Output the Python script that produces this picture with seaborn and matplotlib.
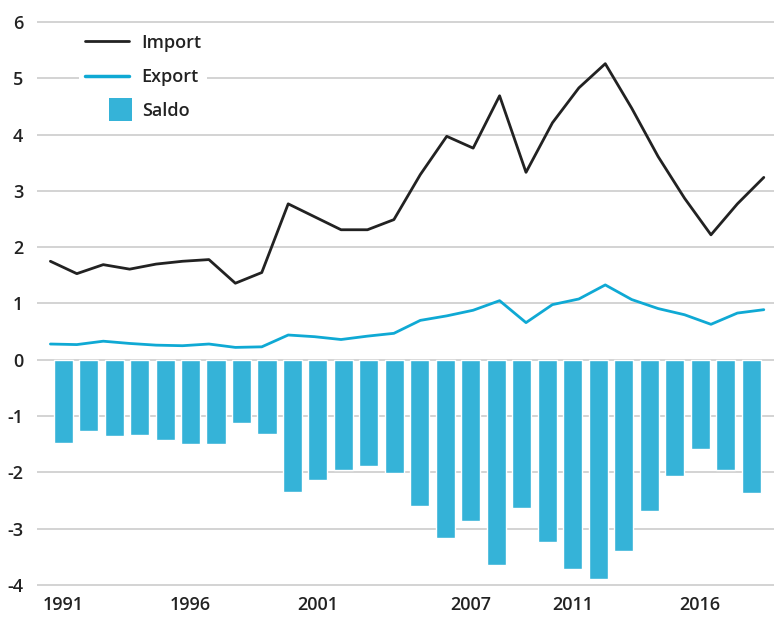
import matplotlib
matplotlib.use("Agg")
import matplotlib.pyplot as plt
from matplotlib.lines import Line2D
from matplotlib.patches import Patch, Rectangle
from matplotlib.legend_handler import HandlerPatch
import seaborn as sns
import pandas as pd

years = list(range(1991, 2019))
imports = [1.75, 1.53, 1.69, 1.61, 1.70, 1.75, 1.78, 1.36, 1.55, 2.77,
           2.54, 2.31, 2.31, 2.49, 3.29, 3.97, 3.76, 4.69, 3.33, 4.21,
           4.83, 5.26, 4.47, 3.61, 2.87, 2.22, 2.77, 3.24]
exports = [0.28, 0.27, 0.33, 0.29, 0.26, 0.25, 0.28, 0.22, 0.23, 0.44,
           0.41, 0.36, 0.42, 0.47, 0.70, 0.78, 0.88, 1.05, 0.66, 0.98,
           1.08, 1.33, 1.07, 0.91, 0.80, 0.63, 0.83, 0.89]
saldo = [-1.47, -1.26, -1.36, -1.33, -1.43, -1.50, -1.49, -1.13, -1.31, -2.34,
         -2.13, -1.95, -1.89, -2.02, -2.59, -3.17, -2.87, -3.64, -2.64, -3.23,
         -3.72, -3.90, -3.40, -2.68, -2.06, -1.58, -1.95, -2.36]
tick_years = [1991, 1996, 2001, 2007, 2011, 2016]
y_ticks = [-4, -3, -2, -1, 0, 1, 2, 3, 4, 5, 6]

df = pd.DataFrame({"year": years, "Import": imports, "Export": exports, "Saldo": saldo})

sns.set_theme(style="white")
plt.rcParams["font.family"] = ["Open Sans", "DejaVu Sans"]

C_IMPORT = "#222222"
C_EXPORT = "#0fa9d4"
C_SALDO = "#35b3d8"
TXT = "#222222"

fig = plt.figure(figsize=(7.74, 6.2), dpi=100)
ax = fig.add_axes([0.048, 0.052, 0.952, 0.917])

# balance bars on a categorical axis
sns.barplot(data=df, x="year", y="Saldo", color=C_SALDO, saturation=1,
            width=0.75, ax=ax, zorder=2)
ax.set_xlim(-1.02, 27.9)
ax.set_ylim(-4.05, 6.05)
ax.set_yticks(y_ticks)
ax.set_yticklabels([str(v) for v in y_ticks])
ax.set_xticks([years.index(y) for y in tick_years])
ax.set_xticklabels([str(y) for y in tick_years])
ax.grid(axis="y", color="#cccccc", linewidth=1.2, zorder=0)
ax.set_axisbelow(True)
for s in ax.spines.values():
    s.set_visible(False)
ax.tick_params(axis="both", length=0, labelsize=13, labelcolor=TXT, pad=6)
ax.tick_params(axis="y", pad=10)
for lab in ax.get_xticklabels() + ax.get_yticklabels():
    lab.set_fontweight("semibold")
ax.set_xlabel("")
ax.set_ylabel("")

# import / export lines span the full band range on a twin x axis
ax2 = ax.twiny()
lo, hi = years[0], years[-1]
span = (hi - lo)
# bar-axis limits (-1.02, 27.9) expressed in years, with -0.5 -> lo and 27.5 -> hi
k = span / 28.0
ax2.set_xlim(lo + (-1.02 + 0.5) * k, lo + (27.9 + 0.5) * k)
sns.lineplot(data=df, x="year", y="Import", color=C_IMPORT, linewidth=2.0, ax=ax2, zorder=3)
sns.lineplot(data=df, x="year", y="Export", color=C_EXPORT, linewidth=2.0, ax=ax2, zorder=3)
ax2.set_ylim(ax.get_ylim())
ax2.set_xticks([])
ax2.set_xlabel("")
ax2.set_ylabel("")
for s in ax2.spines.values():
    s.set_visible(False)


class SquareHandler(HandlerPatch):
    def create_artists(self, legend, orig_handle, xdescent, ydescent,
                       width, height, fontsize, trans):
        s = 1.28 * fontsize
        r = Rectangle((width - xdescent - s + 2.0, -ydescent + (height - s) / 2), s, s,
                      facecolor=orig_handle.get_facecolor(), edgecolor="none",
                      transform=trans)
        return [r]


handles = [Line2D([], [], color=C_IMPORT, linewidth=2.0),
           Line2D([], [], color=C_EXPORT, linewidth=2.5),
           Patch(facecolor=C_SALDO)]
leg = ax2.legend(handles, ["Import", "Export", "Saldo"],
                 loc="upper left", bbox_to_anchor=(0.045, 1.0),
                 frameon=True, framealpha=1, facecolor="white", edgecolor="none",
                 fancybox=False, fontsize=13, handlelength=2.45,
                 handletextpad=0.7, labelspacing=0.9, borderpad=0.3,
                 handler_map={Patch: SquareHandler()})
for t in leg.get_texts():
    t.set_color(TXT)
    t.set_fontweight("semibold")

fig.savefig("out.png", dpi=100)
